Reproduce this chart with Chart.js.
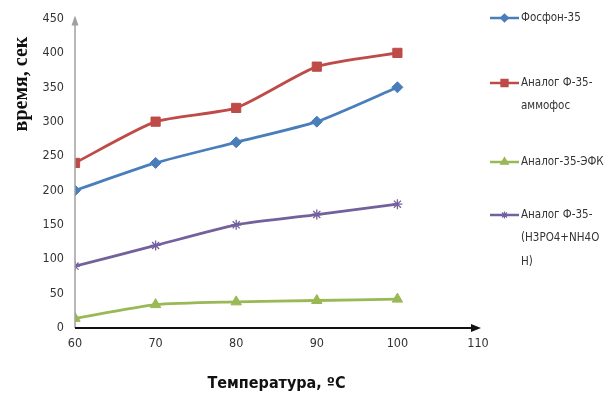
<!DOCTYPE html>
<html><head><meta charset="utf-8">
<script src="https://cdn.jsdelivr.net/npm/chart.js@4/dist/chart.umd.min.js"></script>
<style>html,body{margin:0;padding:0;background:#fff}#w{width:608px;height:399px}</style>
</head><body><div id="w"><canvas id="c" width="608" height="399"></canvas></div>
<script>
const temperatures = [60, 70, 80, 90, 100];
const fosfon35 = [200, 240, 270, 300, 350];
const analogAmmofos = [240, 300, 320, 380, 400];
const analogEFK = [14, 34, 38, 40, 42];
const analogH3PO4 = [90, 120, 150, 165, 180];
const seriesLabels = ["Фосфон-35", "Аналог Ф-35-аммофос", "Аналог-35-ЭФК", "Аналог Ф-35-(Н3РО4+NH4OН)"];
const legendLines = [["Фосфон-35"], ["Аналог Ф-35-", "аммофос"], ["Аналог-35-ЭФК"], ["Аналог Ф-35-", "(Н3РО4+NH4O", "Н)"]];
const xTicks = [60, 70, 80, 90, 100, 110];
const yTicks = [0, 50, 100, 150, 200, 250, 300, 350, 400, 450];
const yTitle = "время, сек";
const xTitle = "Температура, ºС";

const colors = ["#4a7ebb", "#be4b48", "#98b954", "#74609c"];
const styles = ["rectRot", "rect", "triangle", "star"];
const sizes = [5.5, 6.5, 6, 5];
const seriesData = [fosfon35, analogAmmofos, analogEFK, analogH3PO4];

const datasets = seriesData.map((vals, i) => ({
  label: seriesLabels[i],
  data: temperatures.map((t, j) => ({x: t, y: vals[j]})),
  borderColor: colors[i],
  backgroundColor: colors[i],
  pointStyle: styles[i],
  pointRadius: sizes[i],
  pointBorderWidth: i === 3 ? 1.3 : 1,
  borderWidth: 2.8,
  tension: 0.2
}));

const FONT = "'DejaVu Sans Condensed', 'Liberation Sans Narrow', 'DejaVu Sans', sans-serif";

const decor = {
  id: 'decor',
  afterDraw(chart) {
    const ctx = chart.ctx;
    const a = chart.chartArea;
    ctx.save();
    ctx.strokeStyle = '#a0a0a0';
    ctx.fillStyle = '#a0a0a0';
    ctx.lineWidth = 1.5;
    ctx.beginPath(); ctx.moveTo(a.left, a.bottom); ctx.lineTo(a.left, a.top + 4); ctx.stroke();
    ctx.beginPath(); ctx.moveTo(a.left, a.top - 3); ctx.lineTo(a.left - 3.5, a.top + 7); ctx.lineTo(a.left + 3.5, a.top + 7); ctx.closePath(); ctx.fill();
    ctx.strokeStyle = '#111';
    ctx.fillStyle = '#111';
    ctx.lineWidth = 2;
    ctx.beginPath(); ctx.moveTo(a.left, a.bottom); ctx.lineTo(a.right - 4, a.bottom); ctx.stroke();
    ctx.beginPath(); ctx.moveTo(a.right + 3, a.bottom); ctx.lineTo(a.right - 7, a.bottom - 4); ctx.lineTo(a.right - 7, a.bottom + 4); ctx.closePath(); ctx.fill();
    ctx.save();
    ctx.translate(22, 84);
    ctx.rotate(-Math.PI / 2);
    ctx.font = "bold 20px 'Liberation Serif', 'Times New Roman', serif";
    ctx.fillStyle = '#111';
    ctx.textAlign = 'center';
    ctx.textBaseline = 'middle';
    ctx.fillText(yTitle, 0, 0);
    ctx.restore();
    const ys = [18, 83, 162, 215];
    const lh = 23.5;
    ctx.textBaseline = 'middle';
    ctx.textAlign = 'left';
    legendLines.forEach((lines, i) => {
      const y = ys[i];
      ctx.strokeStyle = colors[i];
      ctx.fillStyle = colors[i];
      ctx.lineWidth = 2.5;
      ctx.beginPath(); ctx.moveTo(490, y); ctx.lineTo(519, y); ctx.stroke();
      ctx.lineWidth = 1.2;
      Chart.helpers.drawPoint(ctx, {pointStyle: styles[i], radius: sizes[i] - 1.5, borderWidth: 1.2}, 504.5, y);
      ctx.font = "11.5px " + FONT;
      ctx.fillStyle = '#333';
      lines.forEach((ln, k) => ctx.fillText(ln, 521, y + k * lh));
    });
    ctx.restore();
  }
};

new Chart(document.getElementById('c'), {
  type: 'line',
  data: {datasets},
  options: {
    responsive: false,
    animation: false,
    devicePixelRatio: 1,
    layout: {padding: {top: 15, right: 130, bottom: 0, left: 0}},
    plugins: {legend: {display: false}, tooltip: {enabled: false}},
    scales: {
      x: {
        type: 'linear', min: 60, max: 110,
        afterBuildTicks: s => { s.ticks = xTicks.map(v => ({value: v})); },
        grid: {display: false, drawTicks: false},
        border: {display: false},
        ticks: {padding: 8, color: '#333', font: {family: FONT, size: 12.5}},
        title: {display: true, text: xTitle, color: '#111', font: {family: FONT, size: 16, weight: 'bold'}, padding: {top: 5, bottom: 6}},
        afterFit: s => { s.height = 71; }
      },
      y: {
        min: 0, max: 450,
        afterBuildTicks: s => { s.ticks = yTicks.map(v => ({value: v})); },
        grid: {display: false, drawTicks: false},
        border: {display: false},
        ticks: {padding: 11, color: '#333', font: {family: FONT, size: 12.5}},
        afterFit: s => { s.width = 75; }
      }
    }
  },
  plugins: [decor]
});
</script></body></html>
